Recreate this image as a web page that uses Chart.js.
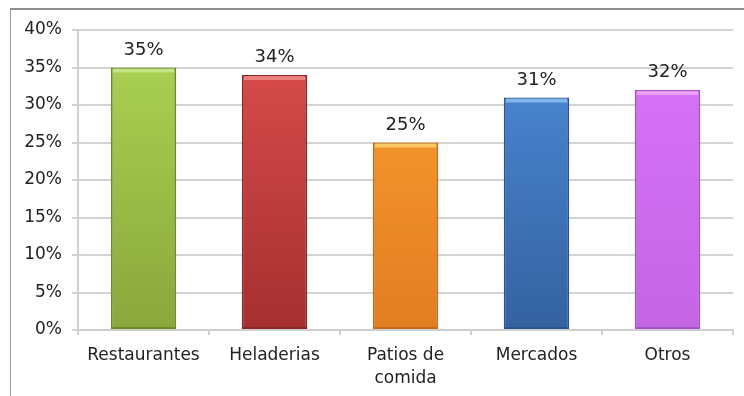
<!DOCTYPE html>
<html>
<head>
<meta charset="utf-8">
<script src="https://cdn.jsdelivr.net/npm/chart.js@4/dist/chart.umd.min.js"></script>
<style>
  html, body { margin: 0; padding: 0; background: #fff; }
  #frame { position: absolute; left: 10px; top: 8px; width: 740px; height: 400px;
           border-top: 2px solid #8e8e8e; border-left: 1px solid #9a9a9a; }
  #wrap { position: absolute; left: 0; top: 0; width: 744px; height: 396px; }
</style>
</head>
<body>
<div id="frame"></div>
<div id="wrap"><canvas id="chart" width="744" height="396"></canvas></div>
<script>
// ===== survey bar chart =====
const categories = ["Restaurantes", "Heladerias", ["Patios de", "comida"], "Mercados", "Otros"];
const shares = [35, 34, 25, 31, 32];
const yTicks = [0, 5, 10, 15, 20, 25, 30, 35, 40];

// top / bottom / edge shades per bar
const topColors = ["#acd553", "#de4f4f", "#fca031", "#4d8cda", "#da74fc"];
const bottomColors = ["#8aa73c", "#a52f2f", "#e27d22", "#3462a0", "#c465e4"];
const edgeColors = ["#6f8c2c", "#8c2727", "#c56b1b", "#2a548f", "#a453c4"];
const capColors = ["#c9e98a", "#f08a8a", "#ffd06a", "#8cc0f0", "#f0a8ff"];

const FONT = "'DejaVu Sans', Verdana, sans-serif";

function barGradient(ctx) {
  const chart = ctx.chart, area = chart.chartArea;
  if (!area) return topColors[ctx.dataIndex];
  const g = chart.ctx.createLinearGradient(0, area.top, 0, area.bottom);
  g.addColorStop(0, topColors[ctx.dataIndex]);
  g.addColorStop(1, bottomColors[ctx.dataIndex]);
  return g;
}

// light cap on each bar plus the value printed above it
const barDecor = {
  id: "barDecor",
  afterDatasetsDraw(chart) {
    const c = chart.ctx;
    const meta = chart.getDatasetMeta(0);
    meta.data.forEach((bar, i) => {
      const half = bar.width / 2;
      c.save();
      c.fillStyle = capColors[i];
      c.globalAlpha = 0.85;
      c.fillRect(bar.x - half + 2, bar.y + 1, bar.width - 4, 4);
      c.restore();
      c.save();
      c.fillStyle = "#222";
      c.font = "18px " + FONT;
      c.textAlign = "center";
      c.textBaseline = "alphabetic";
      c.fillText(shares[i] + "%", bar.x, bar.y - 13);
      c.restore();
    });
  }
};

new Chart(document.getElementById("chart"), {
  type: "bar",
  data: {
    labels: categories,
    datasets: [{
      data: shares,
      backgroundColor: barGradient,
      borderColor: edgeColors,
      borderWidth: 2,
      borderSkipped: false,
      barPercentage: 0.5,
      categoryPercentage: 1.0
    }]
  },
  options: {
    responsive: false,
    animation: false,
    devicePixelRatio: 1,
    layout: { padding: { top: 30, right: 11, bottom: 0, left: 0 } },
    plugins: { legend: { display: false }, tooltip: { enabled: false } },
    scales: {
      x: {
        offset: true,
        grid: { display: true, drawOnChartArea: false, drawTicks: true, tickLength: 5, color: "#cfcfcf", lineWidth: 2 },
        border: { color: "#cfcfcf", width: 2 },
        ticks: { color: "#222", font: { family: FONT, size: 17, lineHeight: 1.35 }, padding: 9, maxRotation: 0, autoSkip: false },
        afterFit: s => { s.height = 66; }
      },
      y: {
        min: 0, max: 40,
        afterBuildTicks: s => { s.ticks = yTicks.map(v => ({ value: v })); },
        grid: { color: "#d3d3d3", lineWidth: 2, tickLength: 6 },
        border: { color: "#cfcfcf", width: 2 },
        ticks: { color: "#222", font: { family: FONT, size: 17 }, padding: 10, callback: v => v + "%" },
        afterFit: s => { s.width = 78; }
      }
    }
  },
  plugins: [barDecor]
});
</script>
</body>
</html>
